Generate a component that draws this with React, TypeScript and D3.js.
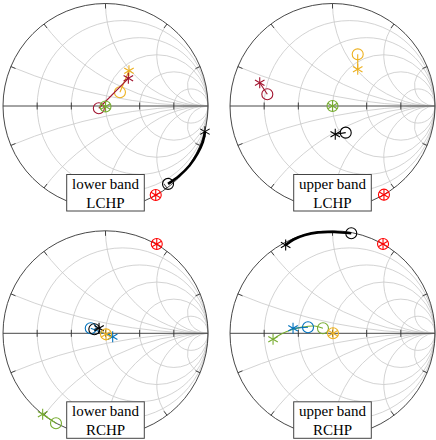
import React from "react";
import * as d3 from "d3";

// grid values of the Smith charts
const resistanceTicks = [0.2, 0.5, 1, 2, 5];
const reactanceTicks = [-5, -2, -1, -0.5, -0.2, 0.2, 0.5, 1, 2, 5];

const orange = "#EDB120";
const crimson = "#A2142F";
const green = "#77AC30";
const blue = "#0072BD";
const red = "#FF0000";
const black = "#000000";

const panelTitles = [
  ["lower band", "LCHP"],
  ["upper band", "LCHP"],
  ["lower band", "RCHP"],
  ["upper band", "RCHP"],
];

type Pt = [number, number];
type Trace = { color: string; pts: Pt[]; kind: "path" | "target"; thick?: boolean };

// reflection coefficients (re, im); first point drawn as circle, last as asterisk
const lowLchpOrange: Pt[] = [[0.141, 0.134], [0.229, 0.344]];
const lowLchpCrimson: Pt[] = [[-0.065, -0.022], [0.223, 0.27]];
const lowLchpGreen: Pt[] = [[0.0, -0.005]];
const lowLchpBlack: Pt[] = [[0.61, -0.76], [0.72, -0.68], [0.82, -0.58], [0.9, -0.46], [0.95, -0.35], [0.97, -0.25]];
const lowLchpRed: Pt[] = [[0.49, -0.868]];

const upLchpOrange: Pt[] = [[0.246, 0.504], [0.246, 0.358]];
const upLchpCrimson: Pt[] = [[-0.636, 0.114], [-0.71, 0.227]];
const upLchpGreen: Pt[] = [[0.0, 0.0]];
const upLchpBlack: Pt[] = [[0.129, -0.26], [0.027, -0.276]];
const upLchpRed: Pt[] = [[0.502, -0.865]];

const lowRchpBlue: Pt[] = [[-0.144, 0.049], [0.07, -0.033]];
const lowRchpBlack: Pt[] = [[-0.109, 0.039], [-0.063, 0.049]];
const lowRchpOrange: Pt[] = [[0.005, -0.01]];
const lowRchpGreen: Pt[] = [[-0.483, -0.878], [-0.613, -0.79]];
const lowRchpRed: Pt[] = [[0.5, 0.871]];

const upRchpBlack: Pt[] = [[0.183, 0.976], [0.02, 0.988], [-0.14, 0.985], [-0.27, 0.959], [-0.38, 0.915], [-0.457, 0.861]];
const upRchpRed: Pt[] = [[0.493, 0.871]];
const upRchpGreen: Pt[] = [[-0.093, 0.049], [-0.174, 0.071], [-0.3, 0.06], [-0.385, 0.04], [-0.5, -0.007], [-0.58, -0.059]];
const upRchpBlue: Pt[] = [[-0.239, 0.059], [-0.385, 0.049]];
const upRchpOrange: Pt[] = [[0.005, 0.0]];

const panelTraces: Trace[][] = [
  [
    { color: orange, pts: lowLchpOrange, kind: "path" },
    { color: crimson, pts: lowLchpCrimson, kind: "path" },
    { color: green, pts: lowLchpGreen, kind: "target" },
    { color: black, pts: lowLchpBlack, kind: "path", thick: true },
    { color: red, pts: lowLchpRed, kind: "target" },
  ],
  [
    { color: orange, pts: upLchpOrange, kind: "path" },
    { color: crimson, pts: upLchpCrimson, kind: "path" },
    { color: green, pts: upLchpGreen, kind: "target" },
    { color: black, pts: upLchpBlack, kind: "path" },
    { color: red, pts: upLchpRed, kind: "target" },
  ],
  [
    { color: blue, pts: lowRchpBlue, kind: "path" },
    { color: black, pts: lowRchpBlack, kind: "path" },
    { color: orange, pts: lowRchpOrange, kind: "target" },
    { color: green, pts: lowRchpGreen, kind: "path" },
    { color: red, pts: lowRchpRed, kind: "target" },
  ],
  [
    { color: black, pts: upRchpBlack, kind: "path", thick: true },
    { color: red, pts: upRchpRed, kind: "target" },
    { color: green, pts: upRchpGreen, kind: "path" },
    { color: blue, pts: upRchpBlue, kind: "path" },
    { color: orange, pts: upRchpOrange, kind: "target" },
  ],
];

const width = 436;
const height = 440;
const R = 102.5;
const centersX = [105.5, 332.5];
const centersY = [106, 333.3];
const markR = 5.5;

function Asterisk({ cx, cy, color }) {
  return (
    <g stroke={color} strokeWidth={1.1}>
      {[90, 30, 150].map((a) => {
        const dx = markR * Math.cos((a * Math.PI) / 180);
        const dy = markR * Math.sin((a * Math.PI) / 180);
        return <line key={a} x1={cx - dx} y1={cy - dy} x2={cx + dx} y2={cy + dy} />;
      })}
    </g>
  );
}

function SmithPanel({ cx, cy, traces, title }) {
  const x = d3.scaleLinear().domain([-1, 1]).range([cx - R, cx + R]);
  const y = d3.scaleLinear().domain([-1, 1]).range([cy + R, cy - R]);
  const line = d3
    .line<Pt>()
    .x((d) => x(d[0]))
    .y((d) => y(d[1]))
    .curve(d3.curveCatmullRom);

  return (
    <g>
      {/* grid */}
      <g fill="none" stroke="#c8c8c8" strokeWidth={0.8}>
        {resistanceTicks.map((r) => (
          <circle key={r} cx={x(r / (1 + r))} cy={y(0)} r={R / (1 + r)} />
        ))}
        {reactanceTicks.map((xv) => {
          const p0 = (xv * xv - 1) / (xv * xv + 1);
          const p1 = (2 * xv) / (xv * xv + 1);
          const rad = R / Math.abs(xv);
          return (
            <path
              key={xv}
              d={`M${x(p0)},${y(p1)} A${rad},${rad} 0 0 ${xv > 0 ? 0 : 1} ${x(1)},${y(0)}`}
            />
          );
        })}
      </g>
      {/* outer circle, axis, ticks */}
      <g fill="none" stroke="#333" strokeWidth={0.9}>
        <circle cx={cx} cy={cy} r={R} />
        <line x1={x(-1)} y1={y(0)} x2={x(1)} y2={y(0)} />
        {resistanceTicks.map((r) => {
          const g = (r - 1) / (r + 1);
          return <line key={r} x1={x(g)} x2={x(g)} y1={y(0) - 3.5} y2={y(0) + 3.5} />;
        })}
        {reactanceTicks.map((xv) => {
          const p0 = (xv * xv - 1) / (xv * xv + 1);
          const p1 = (2 * xv) / (xv * xv + 1);
          const k = 1 - 5 / R;
          return <line key={xv} x1={x(p0)} y1={y(p1)} x2={x(p0 * k)} y2={y(p1 * k)} />;
        })}
      </g>
      {/* traces */}
      {traces.map((t, i) => {
        const first = t.pts[0];
        const last = t.pts[t.pts.length - 1];
        if (t.kind === "target") {
          return (
            <g key={i}>
              <circle cx={x(first[0])} cy={y(first[1])} r={markR} fill="none" stroke={t.color} strokeWidth={1.1} />
              <Asterisk cx={x(first[0])} cy={y(first[1])} color={t.color} />
            </g>
          );
        }
        return (
          <g key={i}>
            <path d={line(t.pts)} fill="none" stroke={t.color} strokeWidth={t.thick ? 2.6 : 1.1} />
            <circle cx={x(first[0])} cy={y(first[1])} r={markR} fill="none" stroke={t.color} strokeWidth={1.1} />
            <Asterisk cx={x(last[0])} cy={y(last[1])} color={t.color} />
          </g>
        );
      })}
      {/* label */}
      <rect x={cx - 38.8} y={cy + 68.5} width={77.6} height={36.5} fill="#fff" stroke="#444" strokeWidth={1} />
      <text
        x={cx}
        y={cy + 83}
        textAnchor="middle"
        fontFamily="'Liberation Serif', serif"
        fontSize={15}
        fill="#000"
      >
        {title[0]}
      </text>
      <text
        x={cx}
        y={cy + 101.5}
        textAnchor="middle"
        fontFamily="'Liberation Serif', serif"
        fontSize={15}
        fill="#000"
      >
        {title[1]}
      </text>
    </g>
  );
}

export default function App() {
  return (
    <svg
      width={width}
      height={height}
      style={{ position: "absolute", left: 0, top: 0, background: "#fff" }}
    >
      {panelTraces.map((traces, i) => (
        <SmithPanel
          key={i}
          cx={centersX[i % 2]}
          cy={centersY[Math.floor(i / 2)]}
          traces={traces}
          title={panelTitles[i]}
        />
      ))}
    </svg>
  );
}
